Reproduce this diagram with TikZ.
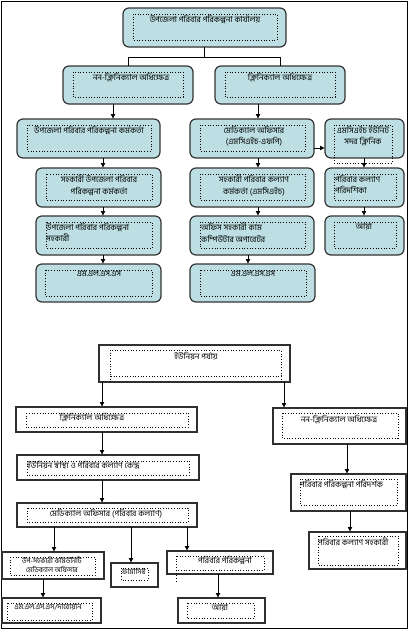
\documentclass[tikz,border=0pt]{standalone}
\usepackage{fontspec}
\newfontfamily\bn[Script=Bengali]{Hind Siliguri}
\usetikzlibrary{arrows.meta,calc}
\definecolor{bx}{HTML}{BDDFE3}
\definecolor{bd}{HTML}{333333}
\definecolor{bd2}{HTML}{303030}
\tikzset{
 rb/.style={draw=bd, fill=bx, line width=1.2pt, rounded corners=6pt, inner sep=0pt, outer sep=0pt},
 sb/.style={draw=bd2, fill=white, line width=1.8pt, inner sep=0pt, outer sep=0pt},
 txt/.style={font=\bn\fontsize{8.2}{11.5}\selectfont, inner sep=0pt, align=center},
 arr/.style={-{Latex[length=5pt,width=5pt]}, line width=0.9pt},
 ln/.style={line width=0.9pt},
 dt/.style={dotted, line width=0.7pt}
}
\newcommand\B[6]{\node[#1, minimum width={#5-#3}, minimum height={#6-#4}] (#2) at ({(#3+#5)/2},{(#4+#6)/2}) {};}
\newcommand\D[4]{\draw[dt] (#1,#2) rectangle (#3,#4);}
\begin{document}
\begin{tikzpicture}[x=1pt,y=-1pt]
\useasboundingbox (0,0) rectangle (409,632);
% frame
\draw[line width=0.9pt] (1.5,1) rectangle (407.5,628);
% ===== upper part =====
\B{rb}{top}{123}{8}{286}{47}\D{133}{14}{277}{40}
\node[txt,anchor=north] at (205,15) {উপজেলা পরিবার পরিকল্পনা কার্যালয়};
\B{rb}{nc}{63}{66}{193}{104}\D{73}{72}{183}{97}
\node[txt,anchor=north] at (131,73) {নন-ক্লিনিক্যাল অধিক্ষেত্র};
\B{rb}{cl}{215}{66}{345}{104}\D{225}{72}{335}{97}
\node[txt,anchor=north] at (280,73) {ক্লিনিক্যাল অধিক্ষেত্র};
% left column
\B{rb}{l1}{17}{119}{160}{158}\D{27}{125}{151}{151}
\node[txt,anchor=north] at (89,126) {উপজেলা পরিবার পরিকল্পনা কর্মকর্তা};
\B{rb}{l2}{36}{168}{161}{207}\D{46}{174}{152}{200}
\node[txt,anchor=north] at (99,175) {সহকারী উপজেলা পরিবার\\পরিকল্পনা কর্মকর্তা};
\B{rb}{l3}{36}{216}{161}{255}\D{46}{222}{152}{248}
\node[txt,anchor=north west,align=left] at (46,223) {উপজেলা পরিবার পরিকল্পনা\\সহকারী};
\B{rb}{l4}{36}{264}{161}{302}\D{45}{270}{152}{296}
\node[txt,anchor=north] at (99,271) {এম.এল.এস.এস};
% middle column
\B{rb}{m1}{190}{119}{314}{158}\D{200}{125}{305}{151}
\node[txt,anchor=north] at (254,126) {মেডিক্যাল অফিসার\\(এমসিএইচ-এফপি)};
\B{rb}{m2}{190}{168}{314}{207}\D{200}{174}{305}{200}
\node[txt,anchor=north] at (254,175) {সহকারী পরিবার কল্যাণ\\কর্মকর্তা (এমসিএইচ)};
\B{rb}{m3}{190}{216}{314}{255}\D{200}{222}{305}{248}
\node[txt,anchor=north west,align=left] at (201,223) {অফিস সহকারী কাম\\কম্পিউটার অপারেটর};
\B{rb}{m4}{190}{264}{315}{302}\D{200}{270}{306}{296}
\node[txt,anchor=north] at (253,271) {এম.এল.এস.এস};
% right column
\B{rb}{r1}{325}{119}{404}{158}\D{334}{125}{392}{163}
\node[txt,anchor=north] at (363,126) {এমসিএইচ ইউনিট\\সদর ক্লিনিক};
\B{rb}{r2}{325}{168}{404}{207}\D{334}{174}{396}{200}
\node[txt,anchor=north west,align=left] at (335,175) {পরিবার কল্যাণ\\পরিদর্শিকা};
\B{rb}{r3}{325}{216}{404}{255}\D{334}{222}{396}{248}
\node[txt,anchor=north] at (364,223) {আয়া};
% upper connectors
\coordinate (h1) at (0,57);
\coordinate (xa) at (113,0);
\coordinate (xb) at (103,0);
\coordinate (xc) at (258,0);
\coordinate (xd) at (248,0);
\coordinate (xe) at (364,0);
\coordinate (ya) at (0,148);
\draw[ln] (top.south) -- (top.south |- h1) coordinate (j1);
\draw[ln] (j1) -| (nc.north);
\draw[ln] (j1) -| (cl.north);
\draw[arr] (nc.south -| xa) -- (l1.north -| xa);
\draw[arr] (l1.south -| xb) -- (l2.north -| xb);
\draw[arr] (l2.south -| xb) -- (l3.north -| xb);
\draw[arr] (l3.south -| xb) -- (l4.north -| xb);
\draw[arr] (cl.south -| xc) -- (m1.north -| xc);
\draw[arr] (m1.south -| xc) -- (m2.north -| xc);
\draw[arr] (m2.south -| xc) -- (m3.north -| xc);
\draw[arr] (m3.south -| xd) -- (m4.north -| xd);
\draw[arr] (m1.east |- ya) -- (r1.west |- ya);
\draw[arr] (r1.south -| xe) -- (r2.north -| xe);
\draw[arr] (r2.south -| xe) -- (r3.north -| xe);
% ===== lower part =====
\B{sb}{un}{99}{345}{290}{382}\D{110}{350}{281}{376}
\draw[dt] (110,376) -- (110,384) (281,376) -- (281,384);
\node[txt,anchor=north] at (196,352) {ইউনিয়ন পর্যায়};
\B{sb}{ucl}{16}{407}{197}{432}\D{26}{413}{188}{427}
\node[txt,anchor=north] at (92,413) {ক্লিনিক্যাল অধিক্ষেত্র};
\B{sb}{uh}{17}{455}{199}{480}\D{27}{461}{189}{475}
\node[txt,anchor=north west,align=left] at (27,461) {ইউনিয়ন স্বাস্থ্য ও পরিবার কল্যাণ কেন্দ্র};
\B{sb}{umo}{17}{503}{197}{527}\D{27}{508}{188}{522}
\node[txt,anchor=north] at (106,509) {মেডিক্যাল অফিসার (পরিবার কল্যাণ)};
\B{sb}{ua}{2}{552}{104}{579}\D{10}{557}{95}{575}
\node[txt,anchor=north,font=\bn\fontsize{7}{8.5}\selectfont] at (52,557) {উপ-সহকারী কমিউনিটি\\মেডিক্যাল অফিসার};
\B{sb}{uf}{111}{563}{158}{587}\D{121}{568}{148}{580}
\node[txt,anchor=north,font=\bn\fontsize{7}{8.5}\selectfont] at (134,568) {ফার্মাসিস্ট};
\B{sb}{up}{167}{551}{273}{574}\D{176}{556}{264}{570}
\draw[dt] (176,570) -- (176,583);
\node[txt,anchor=north] at (225,556) {পরিবার পরিকল্পনা};
\B{sb}{um}{2}{598}{101}{623}\D{7}{603}{92}{620}
\node[txt,anchor=north,font=\bn\fontsize{7.4}{8.5}\selectfont] at (48,604) {এম.এল.এস.এস/দারোয়ান};
\B{sb}{uy}{178}{598}{265}{623}\D{187}{603}{254}{618}
\node[txt,anchor=north] at (220,604) {আয়া};
\B{sb}{unc}{273}{408}{406}{444}\D{282}{413}{398}{438}
\node[txt,anchor=north] at (339,415) {নন-ক্লিনিক্যাল অধিক্ষেত্র};
\B{sb}{upp}{291}{474}{406}{511}\D{300}{479}{397}{505}
\node[txt,anchor=north west,align=left] at (300,480) {পরিবার পরিকল্পনা পরিদর্শক};
\B{sb}{uks}{309}{532}{406}{569}\D{318}{536}{398}{565}
\node[txt,anchor=north west,align=left] at (318,538) {পরিবার কল্যাণ সহকারী};
% lower connectors
\coordinate (xf) at (102,0);
\coordinate (xg) at (284,0);
\coordinate (xh) at (54,0);
\coordinate (xi) at (131,0);
\coordinate (xj) at (187,0);
\coordinate (xk) at (43,0);
\coordinate (xl) at (218,0);
\coordinate (xm) at (347,0);
\coordinate (xn) at (350,0);
\draw[arr] (un.south -| xf) -- (ucl.north -| xf);
\draw[arr] (un.south -| xg) -- (unc.north -| xg);
\draw[arr] (ucl.south -| xf) -- (uh.north -| xf);
\draw[arr] (uh.south -| xf) -- (umo.north -| xf);
\draw[arr] (umo.south -| xh) -- (ua.north -| xh);
\draw[arr] (umo.south -| xi) -- (uf.north -| xi);
\draw[arr] (umo.south -| xj) -- (up.north -| xj);
\draw[arr] (ua.south -| xk) -- (um.north -| xk);
\draw[arr] (up.south -| xl) -- (uy.north -| xl);
\draw[arr] (unc.south -| xm) -- (upp.north -| xm);
\draw[arr] (upp.south -| xn) -- (uks.north -| xn);
\end{tikzpicture}
\end{document}
